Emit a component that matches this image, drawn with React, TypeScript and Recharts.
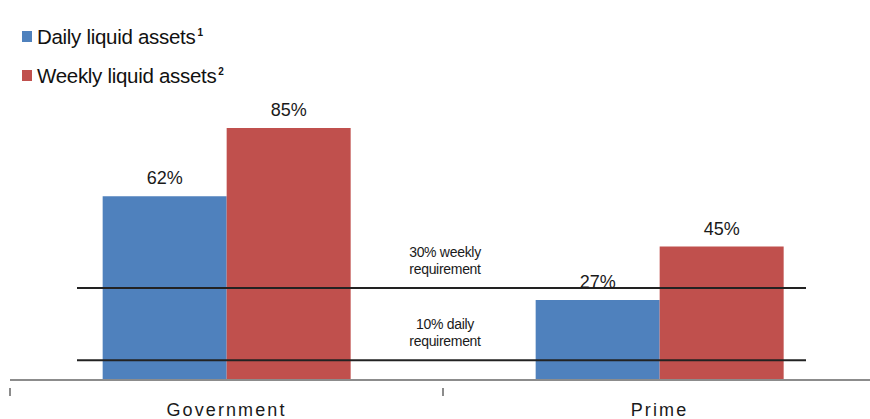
import React from "react";
import { Bar, BarChart, LabelList, ReferenceLine, XAxis, YAxis } from "recharts";

const categories = ["Government", "Prime"];
const dailyLiquid = [62, 27];
const weeklyLiquid = [85, 45];
const seriesNames = ["Daily liquid assets", "Weekly liquid assets"];
const seriesNotes = ["1", "2"];
const colors = ["#4f81bd", "#c0504d"];
// where the two requirement lines sit on the chart, and their captions
const requirementLines = [31, 6.7];
const requirementText = [["30% weekly", "requirement"], ["10% daily", "requirement"]];

const W = 876, H = 419, LEFT = 10;
const band = (W - LEFT) / categories.length;
const font = "'Liberation Sans', Arial, sans-serif";

const rows = categories.map((name, i) => ({ name, daily: dailyLiquid[i], weekly: weeklyLiquid[i] }));

function CatTick({ x, y, payload }: any) {
  return <g>
    <line x1={x - band / 2} x2={x - band / 2} y1={y} y2={y + 8} stroke="#8c8c8c" strokeWidth={2} />
    <text x={x} y={y + 28} textAnchor="middle" fontSize={18} letterSpacing={2.1} fill="#1a1a1a" fontFamily={font}>{payload.value}</text>
  </g>;
}

function reqShape(lines: string[]) {
  return (p: any) => {
    const cx = (p.x1 + p.x2) / 2 + 2;
    return <g>
      <line x1={p.x1 + 67} x2={p.x2 - 70} y1={p.y1} y2={p.y2} stroke="#222" strokeWidth={2} />
      <text y={p.y1 - 31} textAnchor="middle" fontSize={14} fill="#1a1a1a" fontFamily={font} letterSpacing={-0.3}>
        <tspan x={cx}>{lines[0]}</tspan>
        <tspan x={cx} dy={16.5}>{lines[1]}</tspan>
      </text>
    </g>;
  };
}

export default function App() {
  return <div style={{ position: "absolute", left: 0, top: 0, width: 870, height: 419, overflow: "hidden", background: "#fff", fontFamily: font }}>
    <div style={{ position: "absolute", left: 22, top: 17, color: "#111", fontSize: 20.5, letterSpacing: -0.3 }}>
      {seriesNames.map((n, i) => <div key={n} style={{ display: "flex", alignItems: "center", height: 39 }}>
        <span style={{ width: 10, height: 11, background: colors[i], marginRight: 5, display: "inline-block" }} />
        <span>{n}<sup style={{ fontSize: 10, fontWeight: 700, marginLeft: 2 }}>{seriesNotes[i]}</sup></span>
      </div>)}
    </div>
    <BarChart width={W} height={H} data={rows} margin={{ top: 83.5, right: 0, left: LEFT, bottom: 0 }} barCategoryGap="21.4%" barGap={0}>
      <XAxis dataKey="name" height={39} axisLine={{ stroke: "#8c8c8c", strokeWidth: 2 }} tickLine={false} tick={<CatTick />} interval={0} />
      <YAxis hide domain={[0, 100]} />
      <Bar dataKey="daily" fill={colors[0]} isAnimationActive={false}>
        <LabelList dataKey="daily" position="top" offset={12} formatter={(v: any) => `${v}%`} style={{ fontSize: 18, fill: "#1a1a1a", fontFamily: font }} />
      </Bar>
      <Bar dataKey="weekly" fill={colors[1]} isAnimationActive={false}>
        <LabelList dataKey="weekly" position="top" offset={12} formatter={(v: any) => `${v}%`} style={{ fontSize: 18, fill: "#1a1a1a", fontFamily: font }} />
      </Bar>
      {requirementLines.map((v, i) => <ReferenceLine key={i} y={v} shape={reqShape(requirementText[i])} />)}
    </BarChart>
  </div>;
}
